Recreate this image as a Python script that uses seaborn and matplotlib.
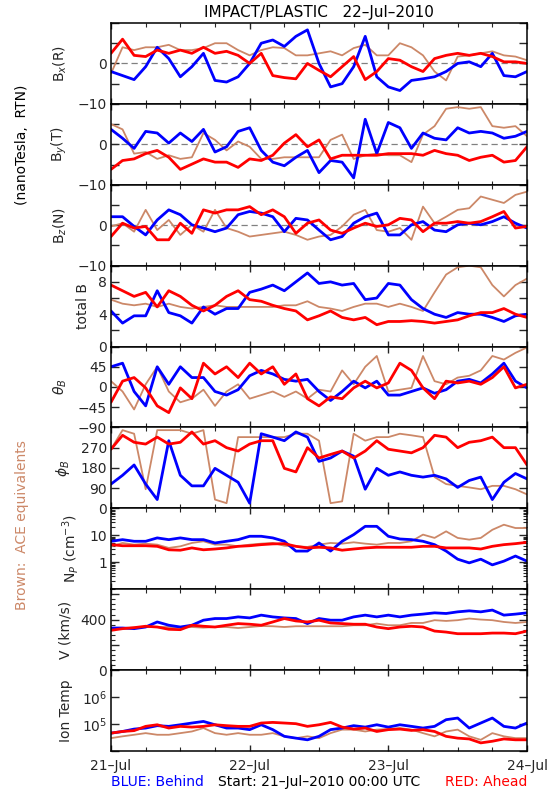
import numpy as np
import pandas as pd
import matplotlib
matplotlib.use("Agg")
import matplotlib.pyplot as plt
import matplotlib.ticker as mticker
import seaborn as sns

sns.set_theme(style="white")
plt.rcParams['font.family'] = ['DejaVu Sans']

# ---------------- data (every 2 hours from 21-Jul 00:00) ----------------
hours = list(range(0, 73, 2))

bx_ace = [-2.5, 4, 3.3, 4, 4, 4.6, 3.3, 3.3, 3.8, 5, 5, 3.3, 2, 3.3, 4, 3.8, 2, 2, 2.5, 3, 2,
          3.8, 4.6, 2, 2, 5, 4, 2, -2, -4.2, 1.7, 2, 2.5, 3, 2, 1.7, 0.8]
bx_behind = [-2, -3, -4, -0.8, 4, 1.2, -3.3, -0.8, 2.5, -4.2, -4.6, -3.3, 0, 5, 5.8, 4.2, 6.7, 8.3,
             0, -5.8, -5, -0.8, 6.7, -3.3, -5.8, -6.7, -4.2, -3.8, -3.3, -2, 0, 0.4, -0.8, 2.5, -3, -3.3, -2]
bx_ahead = [2.5, 6, 2, 1.7, 3.3, 2.5, 3.3, 2.5, 4, 2.5, 3, 2, 0, 2.5, -3, -3.5, -3.8, 0, -1.7, -3.3,
            -0.8, 1.7, -4, -2, 1.2, 0.8, -0.8, -2, 1.2, 2, 2.5, 2, 2.5, 1.7, 0.4, 0.4, 0]

by_ace = [5, 3.7, -2.3, -1.9, -3.6, -2.7, -3.6, -3.2, 2.8, 1.1, -1.5, 0.7, -0.6, -3.6, -3.6, -3.2,
          -3.2, -3.2, -3.2, 1.1, 2.4, -3.6, -2.7, -2.3, -2.7, -2.7, -4.4, 2.4, 4.5, 8.8, 9.2, 8.8,
          9.2, 4.5, 4.1, 4.5, 2]
by_behind = [3.7, 1.5, -1, 3.2, 2.8, 0.3, 2.8, 0.7, 3.7, -1.9, -0.6, 3.2, 4.1, -1.5, -4.4, -5.3,
             -3.2, -1.5, -7, -4, -4.4, -8.3, 6.2, -2.3, 5.4, 4.1, -1, 2.8, 1.5, 1.1, 4.1, 2.8, 3.2,
             2.8, 1.5, 2, 3.2]
by_ahead = [-6.2, -4, -3.6, -2.3, -1.5, -3.2, -6.2, -4.9, -3.6, -4.4, -4.4, -5.7, -3.6, -4, -2.7,
            0.3, 2.4, -0.6, 1.1, -3.6, -2.7, -2.7, -2.7, -2.7, -2.3, -2.3, -2.3, -2.7, -1.5, -2.3,
            -2.7, -4, -3.2, -2.7, -4.4, -4, -0.6]

bz_ace = [-0.3, 0.5, -1.6, 3.8, -1.2, 1.3, -2.4, 0.1, -1.6, 3.8, -0.7, -1.6, -2.8, -2.4, -2, -1.6,
          -2.4, -3.6, -2.8, -2.4, -0.3, 2.6, 3.8, -1.2, -1.6, -0.7, -3.6, 4.6, 0.5, 2.1, 3.8, 4.2,
          7.1, 6.3, 5.5, 7.5, 8.3]
bz_behind = [2.1, 2.1, -0.3, -2.4, 1.3, 3.8, 2.6, 0.1, -0.7, -1.6, -0.7, 2.6, 3.4, 3, 2.1, -1.6,
             1.7, 1.3, -1.2, -3.6, -2.8, 0.5, 2.1, 3, -2.4, -2.4, 0.1, 0.9, -1.2, -1.6, 0.1, 0.5,
             0.1, 0.9, 2.1, 0.5, -0.7]
bz_ahead = [-2.8, 0.5, -0.7, -0.3, -3.6, -3.6, 0.5, -2, 3.8, 3, 3.8, 3.8, 4.6, 2.6, 3.8, 2.1, -2,
            0.5, 1.3, -1.2, -2, -0.7, 0.5, -0.3, 0.1, 1.7, 1.3, -1.6, 0.5, 0.5, 0.9, 0.5, 0.9, 2.1,
            3.4, -0.7, -0.3]

bt_ace = [5.8, 5.3, 5.1, 5.3, 4.9, 5.3, 4.9, 4.7, 4.9, 5.1, 4.9, 4.9, 4.9, 4.9, 4.9, 5.1, 5.1, 5.6,
          4.9, 4.7, 4.4, 4.9, 5.3, 5.3, 4.9, 5.3, 4.9, 4.4, 6.7, 8.9, 9.8, 10, 9.8, 7.6, 6.2, 7.6, 8.4]
bt_behind = [4.4, 2.9, 3.8, 3.8, 6.9, 4.2, 3.8, 2.9, 4.9, 4, 4.7, 4.7, 6.7, 7.1, 7.6, 6.9, 8, 9.1,
             7.8, 8, 7.6, 7.8, 5.8, 6, 7.8, 7.6, 5.8, 4.7, 4, 3.6, 4.2, 4, 4, 3.6, 3.1, 3.8, 4]
bt_ahead = [7.6, 6.9, 6.2, 6.7, 4.9, 6.9, 6.2, 5.1, 4.4, 5.1, 6.2, 6.9, 5.8, 5.6, 5.1, 4.7, 4.4, 3.3,
            3.8, 4.4, 3.6, 3.3, 3.6, 2.7, 3.1, 3.1, 3.2, 3.1, 2.9, 3.1, 3.3, 3.8, 4.2, 4.2, 4.7, 4, 3.6]

th_ace = [13, -10, -50, 6, 45, -10, -34, -26, -6, -42, -10, 6, -26, -18, -10, -22, -10, -26, -6,
          -10, 37, 6, 45, 69, -10, -6, -2, 69, 13, 6, 21, 25, 37, 69, 61, 76, 88]
th_behind = [45, 53, -10, -42, 45, 6, 45, 21, 21, -10, -18, -6, 25, 37, 29, 17, 13, 17, -10, -30,
             -10, 13, -2, 13, -18, -18, -10, -2, -14, -6, 13, 17, 9, 29, 53, 13, -2]
th_ahead = [-34, 13, 21, -2, -42, -57, -2, -26, 53, 29, 45, 21, 53, 29, 45, 6, 29, -26, -42, -22,
            -26, -2, 13, -2, 9, 53, 37, -2, -26, 13, 9, 13, 6, 21, 45, -2, 6]

ph_ace = [263, 348, 332, 85, 348, 348, 348, 332, 348, 39, 23, 317, 317, 317, 317, 317, 332, 332,
          301, 23, 31, 332, 301, 317, 317, 332, 325, 317, 139, 108, 100, 93, 85, 100, 100, 85, 62]
ph_behind = [108, 147, 193, 108, 39, 301, 147, 100, 100, 178, 147, 116, 23, 332, 317, 301, 340, 317,
             209, 224, 255, 232, 85, 178, 147, 162, 147, 139, 147, 131, 93, 124, 139, 39, 116, 155, 131]
ph_ahead = [263, 325, 294, 286, 317, 286, 294, 340, 286, 301, 270, 255, 286, 301, 301, 178, 162, 270,
            224, 240, 255, 224, 255, 301, 263, 255, 247, 270, 325, 317, 270, 294, 301, 317, 270, 270, 193]

np_ace = [3.9, 5.2, 4.5, 4.9, 4.5, 3.4, 3.9, 5.2, 6, 4.5, 4.5, 3.9, 4.5, 4.9, 5.2, 4.1, 3.9, 3.7,
          4.5, 5.2, 4.9, 5.5, 4.9, 4.5, 5.2, 5.2, 6, 10.6, 8, 14, 8, 6.9, 8, 16, 24.7, 18.6, 18.6]
np_behind = [6, 6.9, 6, 6, 8, 6.9, 8, 6.9, 6.9, 5.2, 6, 6.9, 9.2, 9.2, 8, 6, 2.6, 2.6, 5.2, 2.6, 6,
             10.6, 21.5, 21.5, 9.2, 7.3, 6.9, 6, 4.5, 2.6, 1.3, 0.95, 1.3, 0.8, 1.1, 1.7, 1.1]
np_ahead = [4.5, 4.1, 4.1, 4.1, 3.9, 2.9, 2.8, 3.4, 2.9, 3.1, 3.4, 3.9, 4.1, 4.5, 4.8, 4.9, 3.9, 3.4,
            3.6, 3.4, 2.8, 3.1, 3.4, 3.6, 3.6, 3.6, 3.6, 3.9, 3.9, 3.4, 3.4, 3.4, 3.1, 3.9, 4.5, 4.9, 5.5]

v_ace = [328, 333, 336, 341, 341, 341, 336, 341, 336, 341, 341, 333, 341, 349, 347, 341, 347, 347,
         347, 347, 347, 355, 355, 368, 355, 355, 373, 373, 395, 389, 395, 408, 400, 395, 381, 373, 381]
v_behind = [333, 333, 328, 341, 381, 355, 341, 355, 395, 408, 408, 421, 413, 435, 421, 413, 408, 368,
            408, 395, 395, 421, 435, 421, 435, 421, 435, 443, 453, 448, 461, 469, 461, 475, 435, 443, 453]
v_ahead = [315, 328, 336, 347, 341, 323, 320, 355, 347, 341, 355, 368, 363, 355, 381, 408, 389, 381,
           395, 373, 368, 363, 363, 341, 328, 341, 347, 341, 309, 301, 288, 288, 288, 293, 293, 288, 309]

t_ace = [30e3, 35e3, 40e3, 46e3, 40e3, 40e3, 46e3, 53e3, 71e3, 46e3, 40e3, 46e3, 40e3, 40e3, 46e3,
         35e3, 30e3, 35e3, 30e3, 46e3, 62e3, 62e3, 53e3, 62e3, 65e3, 71e3, 62e3, 46e3, 35e3, 53e3,
         62e3, 35e3, 26e3, 46e3, 35e3, 30e3, 30e3]
t_behind = [46e3, 53e3, 65e3, 71e3, 87e3, 82e3, 94e3, 109e3, 125e3, 94e3, 71e3, 71e3, 62e3, 94e3,
            62e3, 35e3, 30e3, 26e3, 35e3, 62e3, 71e3, 87e3, 77e3, 94e3, 77e3, 94e3, 82e3, 71e3,
            82e3, 145e3, 167e3, 71e3, 109e3, 167e3, 82e3, 71e3, 109e3]
t_ahead = [46e3, 53e3, 57e3, 82e3, 94e3, 71e3, 82e3, 77e3, 82e3, 94e3, 87e3, 82e3, 82e3, 109e3,
           115e3, 109e3, 103e3, 82e3, 94e3, 115e3, 77e3, 65e3, 71e3, 53e3, 62e3, 65e3, 58e3, 62e3,
           53e3, 35e3, 30e3, 28e3, 20e3, 23e3, 28e3, 26e3, 26e3]

panels = [
    ("bx", bx_ace, bx_behind, bx_ahead),
    ("by", by_ace, by_behind, by_ahead),
    ("bz", bz_ace, bz_behind, bz_ahead),
    ("bt", bt_ace, bt_behind, bt_ahead),
    ("th", th_ace, th_behind, th_ahead),
    ("ph", ph_ace, ph_behind, ph_ahead),
    ("np", np_ace, np_behind, np_ahead),
    ("v", v_ace, v_behind, v_ahead),
    ("t", t_ace, t_behind, t_ahead),
]

ylabels = [r"B$_x$(R)", r"B$_y$(T)", r"B$_z$(N)", "total B", r"$\theta_B$", r"$\phi_B$",
           r"N$_P$ (cm$^{-3}$)", "V (km/s)", "Ion Temp"]

BROWN = "#CC8868"
BLUE = "#0000FF"
RED = "#FF0000"
palette = {"ACE": BROWN, "Behind": BLUE, "Ahead": RED}

# ---------------- figure ----------------
fig = plt.figure(figsize=(5.5, 8), dpi=100)
fig.patch.set_facecolor("white")
axes = fig.subplots(9, 1, sharex=True, gridspec_kw=dict(hspace=0))
fig.subplots_adjust(left=111 / 550, right=527 / 550, top=1 - 23 / 800, bottom=1 - 751 / 800)

for ax, (key, ace, beh, ahd), lab in zip(axes, panels, ylabels):
    df = pd.DataFrame({
        "hour": hours * 3,
        "value": list(ace) + list(beh) + list(ahd),
        "craft": ["ACE"] * len(hours) + ["Behind"] * len(hours) + ["Ahead"] * len(hours),
    })
    if key in ("np", "t"):
        ax.set_yscale("log")
    for craft, lw in (("ACE", 1.3), ("Behind", 2.0), ("Ahead", 2.0)):
        sns.lineplot(data=df[df.craft == craft], x="hour", y="value", color=palette[craft],
                     lw=lw, ax=ax, legend=False, estimator=None, sort=False)
    ax.set_facecolor("white")
    ax.set_xlim(0, 72)
    ax.set_ylabel(lab, fontsize=10, labelpad=6)
    ax.set_xlabel("")
    for s in ax.spines.values():
        s.set_linewidth(1.1)
        s.set_color("black")
    ax.tick_params(axis="y", which="major", direction="in", length=6, width=1, left=True,
                   right=True, labelsize=10, pad=3)
    ax.tick_params(axis="y", which="minor", direction="in", length=3, width=0.8, left=True, right=True)
    ax.tick_params(axis="x", which="major", direction="in", length=4, width=1, top=True,
                   bottom=True, labelsize=10, pad=6)
    ax.tick_params(axis="x", which="minor", direction="in", length=3, width=0.8, top=True, bottom=True)
    ax.xaxis.set_major_locator(mticker.FixedLocator([0, 24, 48, 72]))
    ax.xaxis.set_minor_locator(mticker.FixedLocator([6, 12, 18, 30, 36, 42, 54, 60, 66]))

    if key in ("bx", "by", "bz"):
        ax.axhline(0, color="#808080", lw=0.9, ls=(0, (5, 3)), zorder=0)
        ax.set_ylim(-10, 10)
        ax.set_yticks([-10, -5, 0, 5, 10])
        ax.set_yticklabels(["\u221210", "", "0", "", ""])
    elif key == "bt":
        ax.set_ylim(0, 10)
        ax.set_yticks([0, 2, 4, 6, 8, 10])
        ax.set_yticklabels(["0", "", "4", "", "8", ""])
    elif key == "th":
        ax.set_ylim(-90, 90)
        ax.set_yticks([-90, -45, 0, 45, 90])
        ax.set_yticklabels(["\u221290", "\u221245", "0", "45", ""])
    elif key == "ph":
        ax.set_ylim(0, 360)
        ax.set_yticks([0, 90, 180, 270, 360])
        ax.set_yticklabels(["0", "90", "180", "270", ""])
    elif key == "np":
        ax.set_ylim(0.1, 100)
        ax.yaxis.set_major_locator(mticker.FixedLocator([0.1, 1, 10, 100]))
        ax.yaxis.set_major_formatter(mticker.FixedFormatter(["", "1", "10", ""]))
        ax.yaxis.set_minor_locator(mticker.LogLocator(base=10, subs=np.arange(2, 10), numticks=10))
        ax.yaxis.set_minor_formatter(mticker.NullFormatter())
    elif key == "v":
        ax.set_ylim(0, 640)
        ax.set_yticks([0, 200, 400, 600])
        ax.set_yticklabels(["0", "", "400", ""])
        ax.yaxis.set_minor_locator(mticker.MultipleLocator(40))
    elif key == "t":
        ax.set_ylim(1e4, 1e7)
        ax.yaxis.set_major_locator(mticker.FixedLocator([1e4, 1e5, 1e6, 1e7]))
        ax.yaxis.set_major_formatter(mticker.FixedFormatter(["", r"10$^5$", r"10$^6$", ""]))
        ax.yaxis.set_minor_locator(mticker.NullLocator())

axes[-1].set_xticklabels(["21\u2013Jul", "22\u2013Jul", "23\u2013Jul", "24\u2013Jul"])
for ax in axes[:-1]:
    ax.tick_params(axis="x", labelbottom=False)

# ---------------- annotations ----------------
fig.text(319 / 550, 1 - 13 / 800, "IMPACT/PLASTIC   22\u2013Jul\u20132010", ha="center",
         va="center", fontsize=11, color="black")
fig.text(22 / 550, 1 - 145 / 800, "(nanoTesla,  RTN)", rotation=90, ha="center", va="center",
         fontsize=10, color="black")
fig.text(22 / 550, 1 - 525 / 800, "Brown:  ACE equivalents", rotation=90, ha="center",
         va="center", fontsize=10, color=BROWN)
fig.text(111 / 550, 1 - 782 / 800, "BLUE: Behind", ha="left", va="center", fontsize=10, color=BLUE)
fig.text(319 / 550, 1 - 782 / 800, "Start: 21\u2013Jul\u20132010 00:00 UTC", ha="center",
         va="center", fontsize=10, color="black")
fig.text(527 / 550, 1 - 782 / 800, "RED: Ahead", ha="right", va="center", fontsize=10, color=RED)

fig.savefig("out.png", dpi=100, facecolor="white")
